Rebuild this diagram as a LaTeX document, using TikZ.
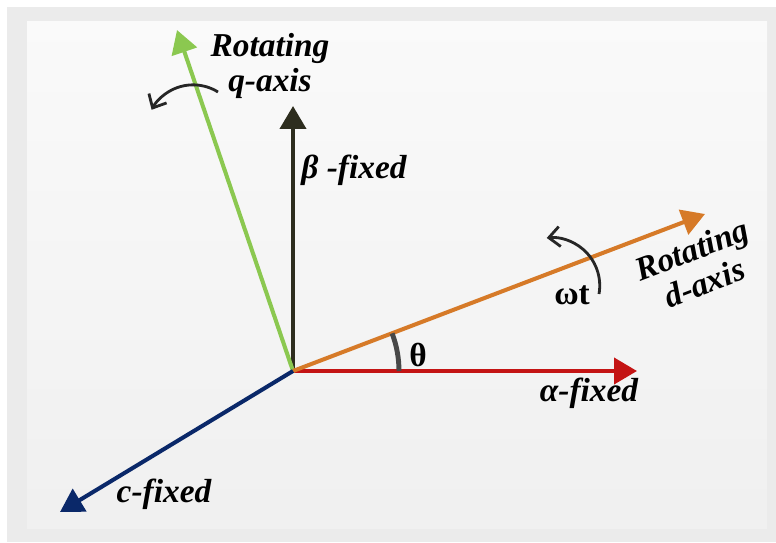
\documentclass[tikz,border=0pt]{standalone}
\usepackage{fontspec}
\setmainfont{Liberation Serif}
\definecolor{qgreen}{RGB}{139,200,80}
\definecolor{betadark}{RGB}{45,45,30}
\definecolor{dorange}{RGB}{214,122,40}
\definecolor{alphared}{RGB}{196,20,20}
\definecolor{cblue}{RGB}{10,40,105}
\definecolor{arcgray}{RGB}{72,72,72}
\definecolor{framegray}{RGB}{235,235,235}
\usetikzlibrary{arrows.meta,positioning}

\begin{document}
\begin{tikzpicture}[x=0.02cm, y=0.02cm,
    axis/.style={line width=2.3pt, -{Triangle[length=0.46cm, width=0.52cm]}},
    lbl/.style={font=\fontsize{19}{20}\selectfont\bfseries\itshape, align=center, inner sep=1pt},
    spin/.style={line width=1.6pt, draw=black!85, -{Straight Barb[length=0.22cm, width=0.4cm, line width=1.6pt]}}]
    % frame and panel
    \useasboundingbox (0,0) rectangle (776,542);
    \fill[framegray] (7,0) rectangle (776,535);
    \shade[top color=white!98!black, bottom color=white!94!black] (27,14) rectangle (767,520);
    % axes
    \coordinate (O) at (293,171);
    \coordinate (alphaEnd) at (637,171);
    \coordinate (betaEnd) at (293,436);
    \coordinate (qEnd) at (177,512);
    \coordinate (dEnd) at (705,328);
    \coordinate (cEnd) at (60,30);
    \draw[axis, alphared] (O) -- (alphaEnd);
    \draw[axis, betadark] (O) -- (betaEnd);
    \draw[axis, qgreen] (O) -- (qEnd);
    \draw[axis, dorange] (O) -- (dEnd);
    \draw[axis, cblue] (O) -- (cEnd);
    % angle and rotation marks
    \draw[arcgray, line width=2.8pt] ([shift={(106,0)}]O) arc[start angle=0, end angle=20.8, radius=106];
    \draw[spin] (599,248) arc[start angle=-10, end angle=96, radius=48];
    \draw[spin] (218,450) arc[start angle=58, end angle=152, radius=47];
    % labels
    \node[lbl] (qLabel) at (270,476) {Rotating\\q-axis};
    \node[lbl] (betaLabel) at (354,372) {β -fixed};
    \node[lbl] (alphaLabel) at (589,149) {α-fixed};
    \node[lbl] (cLabel) at (164,48) {c-fixed};
    \node[lbl, rotate=21] (dLabel) at (698,276) {Rotating\\d-axis};
    \node[lbl, font=\fontsize{19}{20}\selectfont\bfseries] (thetaLabel) at (418,187) {θ};
    \node[lbl, font=\fontsize{19}{20}\selectfont\bfseries] (omegaLabel) at (572,247) {ωt};
\end{tikzpicture}
\end{document}
